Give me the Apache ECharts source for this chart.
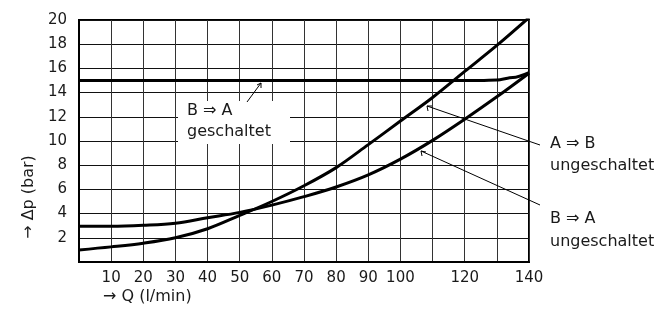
<!DOCTYPE html>
<html>
<head>
<meta charset="utf-8">
<script src="https://cdn.jsdelivr.net/npm/echarts@6/dist/echarts.min.js"></script>
<style>html,body{margin:0;padding:0;background:#fff}#c{width:659px;height:311px}</style>
</head>
<body>
<div id="c"></div>
<script>
// Q in l/min
const qCurve = [0, 10, 20, 30, 40, 50, 60, 70, 80, 90, 100, 110, 120, 130, 140];
// A => B ungeschaltet (bar)
const dpAB = [1.0, 1.25, 1.55, 2.0, 2.75, 3.85, 5.0, 6.3, 7.8, 9.7, 11.65, 13.6, 15.75, 17.9, 20.2];
// B => A ungeschaltet (bar)
const dpBA = [2.95, 2.95, 3.03, 3.2, 3.65, 4.1, 4.7, 5.4, 6.2, 7.2, 8.5, 10.05, 11.8, 13.65, 15.6];
// B => A geschaltet
const qSwitched = [0, 125, 130, 135, 140];
const dpSwitched = [15, 15, 15.05, 15.25, 15.65];
const xHiddenLabels = [0, 110, 130];
const yHiddenLabels = [0];

const FONT = '"DejaVu Sans", sans-serif';
const COL = '#1a1a1a';
const pairs = (xs, ys) => xs.map((x, i) => [x, ys[i]]);

const chart = echarts.init(document.getElementById('c'), null, {renderer: 'canvas'});
const lineSeries = (data) => ({
  type: 'line', data, smooth: 0.35, symbol: 'none', clip: true,
  lineStyle: {color: '#000', width: 3}, z: 5, silent: true
});
const txt = (text, x, y) => ({type: 'text', z: 11, style: {text, x, y, fontSize: 16, fontFamily: FONT, fill: COL, verticalAlign: 'middle'}});
chart.setOption({
  animation: false,
  backgroundColor: '#fff',
  grid: {left: 79, right: 130, top: 20, bottom: 49, show: true, borderColor: '#000', borderWidth: 2, backgroundColor: 'transparent'},
  xAxis: {
    type: 'value', min: 0, max: 140, interval: 10,
    axisLine: {show: true, lineStyle: {color: '#000', width: 2}},
    axisTick: {show: false},
    axisLabel: {color: COL, fontSize: 15, fontFamily: FONT, margin: 9,
      formatter: v => xHiddenLabels.includes(v) ? '' : String(v)},
    splitLine: {show: true, lineStyle: {color: '#333', width: 1}}
  },
  yAxis: {
    type: 'value', min: 0, max: 20, interval: 2,
    axisLine: {show: true, lineStyle: {color: '#000', width: 2}},
    axisTick: {show: false},
    axisLabel: {color: COL, fontSize: 15, fontFamily: FONT, margin: 12,
      formatter: v => yHiddenLabels.includes(v) ? '' : String(v)},
    splitLine: {show: true, lineStyle: {color: '#111', width: 1}}
  },
  series: [
    lineSeries(pairs(qCurve, dpAB)),
    lineSeries(pairs(qCurve, dpBA)),
    Object.assign(lineSeries(pairs(qSwitched, dpSwitched)), {smooth: 0.3, smoothMonotone: 'x'})
  ],
  graphic: [
    {type: 'rect', shape: {x: 178, y: 101, width: 112, height: 43}, style: {fill: '#fff'}, z: 10},
    txt('B ⇒ A', 187, 111),
    txt('geschaltet', 187, 132),
    {type: 'polyline', z: 11, shape: {points: [[247, 102], [261, 83]]}, style: {stroke: '#000', lineWidth: 1}},
    {type: 'polyline', z: 11, shape: {points: [[257, 85], [261, 83], [261, 88]]}, style: {stroke: '#000', lineWidth: 1, fill: null}},

    {type: 'polyline', z: 11, shape: {points: [[427, 106], [540, 145]]}, style: {stroke: '#000', lineWidth: 1}},
    {type: 'polyline', z: 11, shape: {points: [[428, 111], [427, 106], [432, 106]]}, style: {stroke: '#000', lineWidth: 1, fill: null}},
    {type: 'polyline', z: 11, shape: {points: [[421, 151], [540, 205]]}, style: {stroke: '#000', lineWidth: 1}},
    {type: 'polyline', z: 11, shape: {points: [[422, 156], [421, 151], [426, 152]]}, style: {stroke: '#000', lineWidth: 1, fill: null}},

    txt('A ⇒ B', 550, 144),
    txt('ungeschaltet', 550, 166),
    txt('B ⇒ A', 550, 219),
    txt('ungeschaltet', 550, 242),
    txt('→ Q (l/min)', 103, 297),
    {type: 'text', x: 29, y: 197, rotation: Math.PI / 2, style: {text: '→ Δp (bar)', x: 0, y: 0, fontSize: 16, fontFamily: FONT, fill: COL, align: 'center', verticalAlign: 'middle'}}
  ]
});
</script>
</body>
</html>
